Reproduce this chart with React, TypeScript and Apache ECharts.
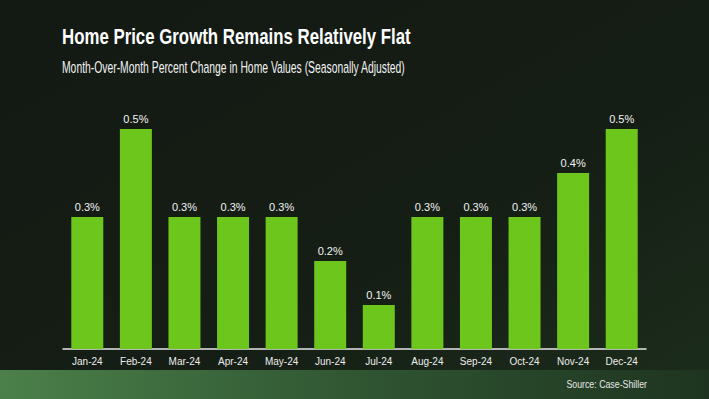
import React, { useEffect, useRef } from "react";
import * as echarts from "echarts";

const categories = ["Jan-24", "Feb-24", "Mar-24", "Apr-24", "May-24", "Jun-24", "Jul-24", "Aug-24", "Sep-24", "Oct-24", "Nov-24", "Dec-24"];
const values = [0.3, 0.5, 0.3, 0.3, 0.3, 0.2, 0.1, 0.3, 0.3, 0.3, 0.4, 0.5];
const titleText = "Home Price Growth Remains Relatively Flat";
const subtitleText = "Month-Over-Month Percent Change in Home Values (Seasonally Adjusted)";
const sourceText = "Source: Case-Shiller";

export default function App() {
  const ref = useRef<HTMLDivElement>(null);
  useEffect(() => {
    if (!ref.current) return;
    const chart = echarts.init(ref.current, null, { renderer: "svg" });
    const font = "'Liberation Sans', Arial, sans-serif";
    chart.setOption({
      animation: false,
      backgroundColor: {
        type: "linear", x: 0, y: 0, x2: 1, y2: 1,
        colorStops: [
          { offset: 0, color: "#131913" },
          { offset: 0.6, color: "#151e15" },
          { offset: 1, color: "#1c2d1c" },
        ],
      },
      graphic: [
        {
          type: "rect", left: 0, top: 370, z: -1,
          shape: { width: 709, height: 29 },
          style: {
            fill: {
              type: "linear", x: 0, y: 0, x2: 1, y2: 0,
              colorStops: [
                { offset: 0, color: "#4b804a" },
                { offset: 0.5, color: "#305632" },
                { offset: 1, color: "#1e3420" },
              ],
            },
          },
        },
        {
          type: "text", x: 62, y: 25, scaleX: 0.748,
          style: { text: titleText, fill: "#ffffff", font: `bold 22.5px ${font}`, verticalAlign: "top" },
        },
        {
          type: "text", x: 62, y: 59, scaleX: 0.628,
          style: { text: subtitleText, fill: "#f2f2f2", font: `16.5px ${font}`, verticalAlign: "top" },
        },
        {
          type: "text", x: 647, y: 379, scaleX: 0.88,
          style: { text: sourceText, fill: "#e8e8e8", font: `10px ${font}`, verticalAlign: "top", align: "right" },
        },
      ],
      grid: { left: 63, right: 63, top: 129, bottom: 50 },
      xAxis: {
        type: "category",
        data: categories,
        axisLine: { show: true, lineStyle: { color: "#e6e6e6", width: 1.5 } },
        axisTick: { show: false },
        axisLabel: { color: "#ececec", fontSize: 10, fontFamily: font, margin: 7 },
      },
      yAxis: {
        type: "value", min: 0, max: 0.5, show: false,
        splitLine: { show: false },
      },
      series: [
        {
          type: "bar",
          data: values,
          barWidth: 32,
          itemStyle: { color: "#6dc61b" },
          label: {
            show: true, position: "top", distance: 5,
            color: "#f2f2f2", fontSize: 11, fontFamily: font,
            formatter: (p: any) => `${Number(p.value).toFixed(1)}%`,
          },
        },
      ],
    });
    return () => chart.dispose();
  }, []);
  return <div ref={ref} style={{ position: "absolute", left: 0, top: 0, width: 709, height: 399 }} />;
}
